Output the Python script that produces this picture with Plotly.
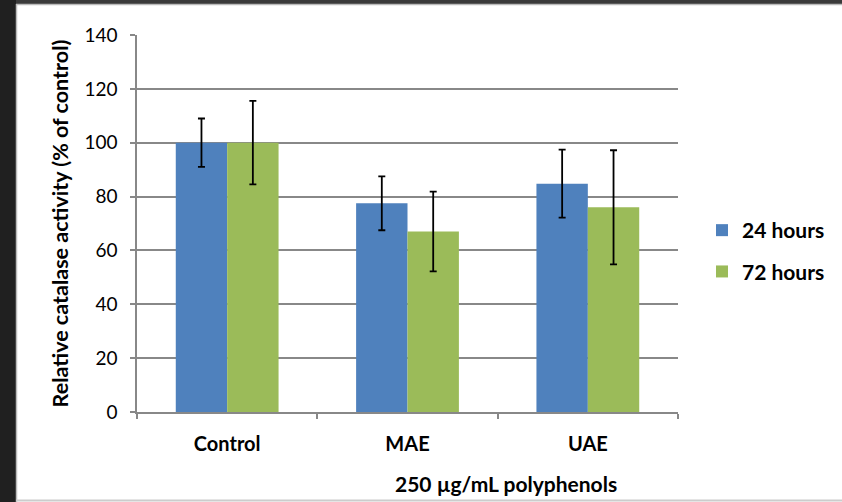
import plotly.graph_objects as go

categories = ["Control", "MAE", "UAE"]
series_names = ["24 hours", "72 hours"]
values_24h = [100, 77.5, 84.8]
errors_24h = [9, 10, 12.6]
values_72h = [100, 67, 76]
errors_72h = [15.5, 14.8, 21.2]
y_ticks = [0, 20, 40, 60, 80, 100, 120, 140]
colors = ["#4F81BD", "#9BBB59"]

W, H = 842, 502
L, R, T, B = 137, 164, 35, 90
pw, ph = W - L - R, H - T - B

def px_x(p):
    return (p - L) / pw

def px_y(p):
    return (H - B - p) / ph

fig = go.Figure()
for name, vals, errs, col, grp in [
    (series_names[0], values_24h, errors_24h, colors[0], "a"),
    (series_names[1], values_72h, errors_72h, colors[1], "b"),
]:
    fig.add_trace(go.Bar(
        x=categories, y=vals, name=name, marker=dict(color=col, line=dict(width=0)),
        legendgroup=grp,
        error_y=dict(type="data", array=errs, visible=True, color="black", thickness=1.8, width=3.5),
    ))

font_main = "Lato, 'Open Sans', sans-serif"

fig.update_layout(
    width=W, height=H,
    margin=dict(l=L, r=R, t=T, b=B),
    paper_bgcolor="white", plot_bgcolor="white",
    barmode="group", bargap=0.43, bargroupgap=0,
    font=dict(family=font_main, color="black"),
    showlegend=True,
    legend=dict(xref="container", yref="container", x=702 / W, y=1 - 210 / H,
                xanchor="left", yanchor="top",
                font=dict(size=21, family=font_main, color="black", weight="bold"),
                tracegroupgap=11, bgcolor="rgba(0,0,0,0)", itemwidth=30),
    xaxis=dict(
        type="category", showgrid=False, showline=True, linecolor="#888888", linewidth=1.5,
        ticks="outside", tickson="boundaries", ticklen=5, tickcolor="#888888", tickwidth=1.5,
        tickfont=dict(size=20, family=font_main, weight="bold"), ticklabelstandoff=13,
    ),
    yaxis=dict(
        range=[0, 140], tickvals=y_ticks, showgrid=True, gridcolor="#888888", gridwidth=1.5,
        showline=True, linecolor="#888888", linewidth=1.5,
        ticks="outside", ticklen=5, tickcolor="#888888", tickwidth=1.5,
        tickfont=dict(size=19, family=font_main), zeroline=False, ticklabelstandoff=9,
        title=dict(text="Relative catalase activity (% of control)",
                   font=dict(size=21.5, family=font_main, weight="bold"), standoff=10),
    ),
    annotations=[dict(
        text="250 µg/mL polyphenols", x=px_x(506), y=px_y(483), xref="paper", yref="paper",
        showarrow=False, font=dict(size=21, family=font_main, weight="bold"),
        xanchor="center", yanchor="middle",
    )],
    shapes=[
        dict(type="rect", xref="paper", yref="paper", x0=px_x(0), x1=px_x(16), y0=px_y(H), y1=px_y(0),
             fillcolor="#202020", line=dict(width=0), layer="above"),
        dict(type="rect", xref="paper", yref="paper", x0=px_x(16), x1=px_x(W), y0=px_y(4), y1=px_y(0),
             fillcolor="#3a3a3a", line=dict(width=0), layer="above"),
        dict(type="line", xref="paper", yref="paper", x0=px_x(16.5), x1=px_x(16.5), y0=px_y(H), y1=px_y(4),
             line=dict(color="#bbbbbb", width=1.5), layer="above"),
        dict(type="line", xref="paper", yref="paper", x0=px_x(16), x1=px_x(W), y0=px_y(4.5), y1=px_y(4.5),
             line=dict(color="#bbbbbb", width=1.5), layer="above"),
        dict(type="line", xref="paper", yref="paper", x0=px_x(16), x1=px_x(W), y0=px_y(500.5), y1=px_y(500.5),
             line=dict(color="#cccccc", width=2), layer="above"),
    ],
)

fig.write_html("out.html", config={"displayModeBar": False},
               post_script="document.body.style.margin='0';document.body.style.overflow='hidden';")
